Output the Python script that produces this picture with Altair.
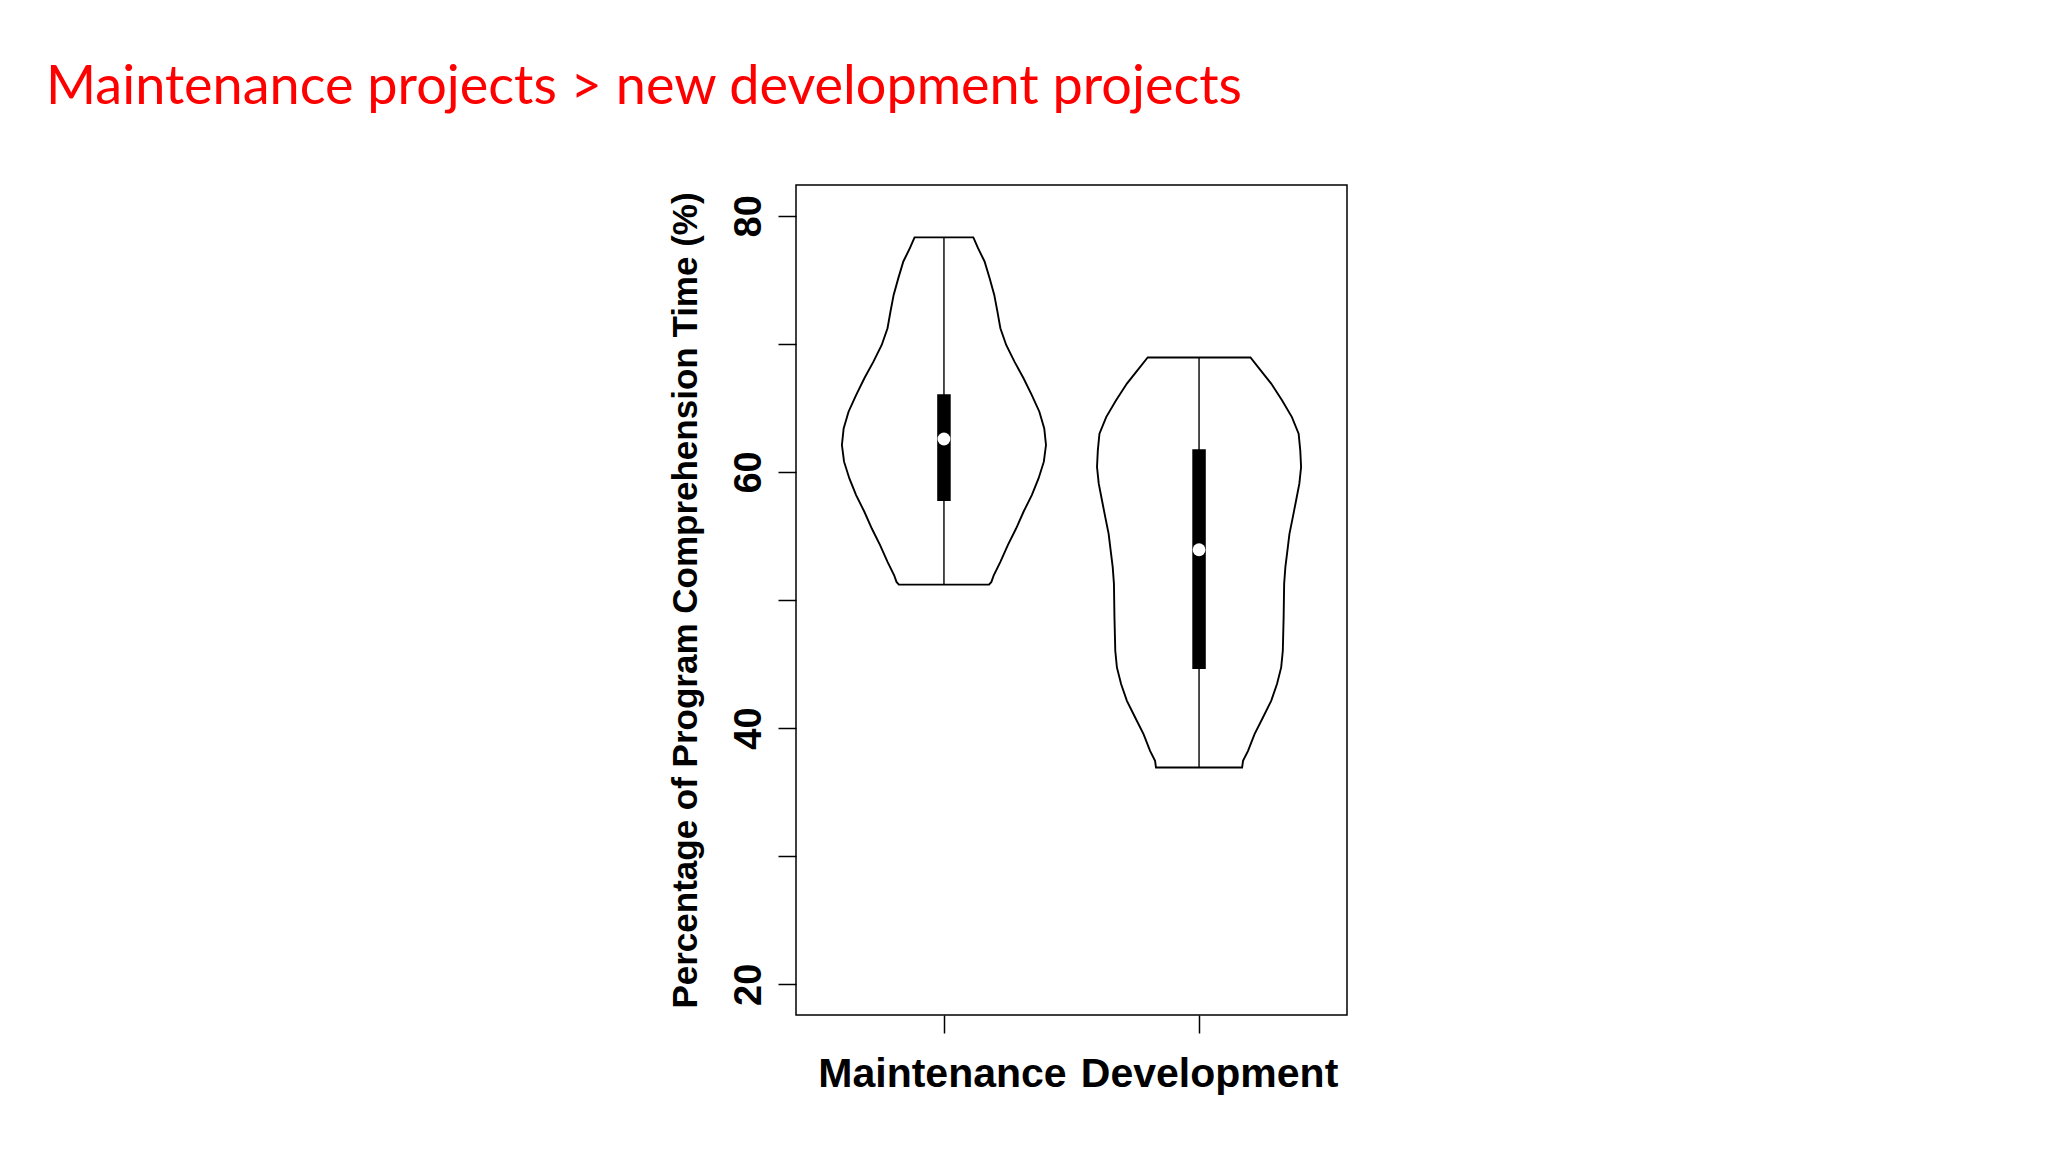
import altair as alt
import pandas as pd

# ---- data ----
groups = ["Maintenance", "Development"]
positions = [1, 2]

maint_y = [78.31, 77.47, 76.43, 75.13, 73.82, 72.52, 71.22, 69.91, 68.61, 67.31, 66.00, 64.70,
           63.40, 62.10, 60.80, 59.49, 58.19, 56.89, 55.58, 54.28, 52.98, 51.93, 51.41, 51.20]
maint_density = [0.288, 0.334, 0.398, 0.447, 0.493, 0.524, 0.553, 0.610, 0.691, 0.780, 0.861, 0.935,
                 0.983, 1.000, 0.979, 0.927, 0.861, 0.780, 0.707, 0.626, 0.553, 0.488, 0.465, 0.442]

dev_y = [68.93, 67.94, 66.90, 65.59, 64.28, 62.99, 61.68, 60.38, 59.08, 57.77, 56.47, 55.17, 53.86,
         52.56, 51.26, 48.65, 46.04, 44.74, 43.44, 42.13, 40.83, 39.53, 38.22, 37.44, 36.92]
dev_density = [0.504, 0.602, 0.707, 0.813, 0.910, 0.976, 0.992, 1.000, 0.983, 0.951, 0.919, 0.886, 0.866,
               0.846, 0.834, 0.829, 0.821, 0.805, 0.764, 0.707, 0.626, 0.544, 0.480, 0.431, 0.422]

mins = [51.20, 36.92]
q1s = [57.72, 44.61]
medians = [62.57, 53.92]
q3s = [66.06, 61.76]
maxs = [78.31, 68.93]

y_ticks = [20, 30, 40, 50, 60, 70, 80]

title_text = "Maintenance projects > new development projects"
y_title = "Percentage of Program Comprehension Time (%)"

# ---- tables ----
violin = pd.DataFrame({
    "group": [groups[0]] * len(maint_y) + [groups[1]] * len(dev_y),
    "pos": [positions[0]] * len(maint_y) + [positions[1]] * len(dev_y),
    "y": maint_y + dev_y,
    "d": maint_density + dev_density,
})
stats = pd.DataFrame({
    "group": groups, "pos": positions, "min": mins, "q1": q1s,
    "median": medians, "q3": q3s, "max": maxs,
})

xscale = alt.Scale(domain=[0.42, 2.58], nice=False, zero=False)
yscale = alt.Scale(domain=[17.6, 82.4], nice=False, zero=False)

x_axis = alt.Axis(
    values=positions, title="", grid=False, domain=False,
    labelExpr="datum.value == 1 ? 'Maintenance' : (datum.value == 2 ? 'Development' : '')",
    labelFont="Liberation Sans", labelFontWeight="bold", labelFontSize=41, labelColor="black",
    labelBaseline="alphabetic", labelPadding=53, labelLimit=1000,
    labelOffset={"condition": {"test": "datum.value == 2", "value": 10}, "value": -2},
    tickSize=18, tickWidth=1.5, tickColor="black", labelBound=False, labelOverlap=False,
)
y_axis = alt.Axis(
    values=y_ticks, grid=False, domain=False, title=y_title,
    labelExpr="datum.value % 20 == 0 ? datum.label : ''",
    labelFont="Liberation Sans", labelFontWeight="bold", labelFontSize=38, labelColor="black",
    labelAngle=270, labelAlign="center", labelBaseline="alphabetic", labelPadding=18,
    tickSize=18, tickWidth=1.5, tickColor="black", labelOverlap=False,
    titleFont="Liberation Sans", titleFontWeight="bold", titleFontSize=35, titleColor="black",
    titleAngle=270, titleAlign="center", titleBaseline="alphabetic", titleX=-100, titleY=415,
)

area = alt.Chart(violin).transform_calculate(
    lo="datum.pos - 0.4 * datum.d", hi="datum.pos + 0.4 * datum.d"
).mark_area(orient="horizontal", fill="white", stroke="black", strokeWidth=1.9).encode(
    y=alt.Y("y:Q", scale=yscale, axis=y_axis),
    x=alt.X("lo:Q", scale=xscale, axis=x_axis),
    x2="hi:Q",
    detail="group:N",
)

whisker = alt.Chart(stats).mark_rule(color="black", strokeWidth=1.4).encode(
    x=alt.X("pos:Q", scale=xscale), y=alt.Y("min:Q", scale=yscale), y2="max:Q"
)
box = alt.Chart(stats).mark_rule(color="black", strokeWidth=13.5, strokeCap="butt").encode(
    x=alt.X("pos:Q", scale=xscale), y=alt.Y("q1:Q", scale=yscale), y2="q3:Q"
)
med = alt.Chart(stats).mark_point(filled=True, color="white", opacity=1, size=165).encode(
    x=alt.X("pos:Q", scale=xscale), y=alt.Y("median:Q", scale=yscale)
)

chart = alt.layer(area, whisker, box, med).properties(
    width=551, height=830,
    autosize=alt.AutoSizeParams(type="none"),
    padding={"left": 788, "top": 177, "right": 680, "bottom": 120},
    background="white",
    title=alt.TitleParams(
        text=title_text, anchor="start", frame="group", font="Lato", fontSize=54,
        fontWeight="normal", color="#FF0000", dx=-750, offset=27, baseline="alphabetic",
    ),
).configure_view(stroke="black", strokeWidth=1.5)

chart.save("out.html", embed_options={"renderer": "svg", "actions": False})
